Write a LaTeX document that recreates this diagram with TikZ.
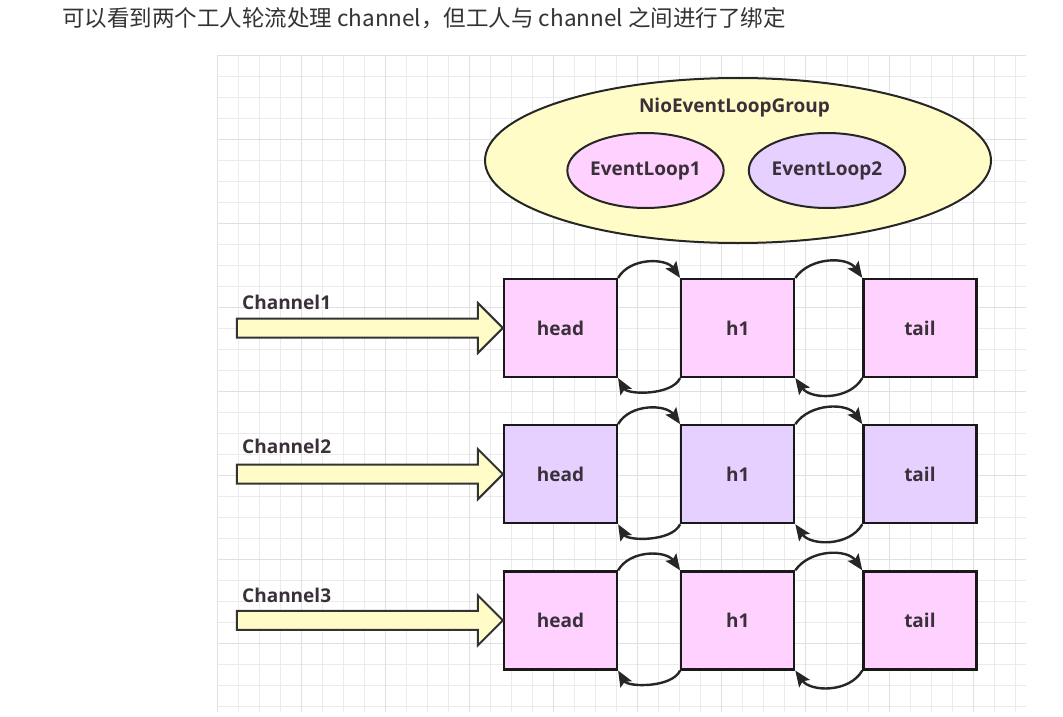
\documentclass[tikz,border=0pt]{standalone}
\usepackage{fontspec}
\setmainfont{Open Sans}
\newfontfamily\cjk{Noto Sans CJK SC}
\usetikzlibrary{positioning,arrows.meta,shapes.geometric}
\definecolor{boxpink}{HTML}{FFD1FF}
\definecolor{boxlilac}{HTML}{E6D0FF}
\definecolor{groupyellow}{HTML}{FFFCC8}
\definecolor{txtgray}{HTML}{3A3039}
\begin{document}
\begin{tikzpicture}[x=1pt, y=-1pt, font=\fontsize{19}{22}\selectfont\bfseries] % pixel units, y grows downwards
\tikzstyle{cell} = [rectangle, draw=black!90, line width=2.2pt, text=txtgray, minimum width=113pt, minimum height=98pt, inner sep=0pt]
\tikzstyle{loop} = [ellipse, draw=black!85, line width=2pt, text=txtgray, inner sep=0pt]
\tikzstyle{link} = [-{Stealth[length=16pt,width=13pt,inset=3pt]}, line width=2.4pt, draw=black!85]
\tikzstyle{fatarrow} = [draw=black!80, line width=2pt, fill=groupyellow, line join=miter]
\tikzstyle{chname} = [anchor=west, text=txtgray, inner sep=0pt]

\useasboundingbox (0,0) rectangle (1063,717);
\fill[white] (0,0) rectangle (1063,717);

% background grid
\draw[black!8, line width=0.8pt, step=21pt, shift={(217,55)}] (0,0) grid (809,657);
\draw[black!12, line width=0.8pt, step=84pt, shift={(217,55)}] (0,0) grid (809,657);

% caption line
\node[anchor=west, inner sep=0pt, text=black!80, font=\cjk\fontsize{22.5}{26}\selectfont] (Caption) at (62,18)
{可以看到两个工人轮流处理 channel，但工人与 channel 之间进行了绑定};

% the group with its two event loops
\node[loop, fill=groupyellow, minimum width=506pt, minimum height=165pt] (Group) at (738,160.5) {};
\node[text=txtgray] (GroupName) at (734.5,108) {NioEventLoopGroup};
\node[loop, fill=boxpink, minimum width=147pt, minimum height=75pt] (Loop1) at (645.5,170.5) {EventLoop1};
\node[loop, fill=boxlilac, minimum width=147pt, minimum height=75pt] (Loop2) at (827,170.5) {EventLoop2};

% three pipelines
\node[cell, fill=boxpink] (HeadA) at (560.5,328) {head};
\node[cell, fill=boxpink, right=62pt of HeadA] (HOneA) {h1};
\node[cell, fill=boxpink, right=67pt of HOneA] (TailA) {tail};

\node[cell, fill=boxlilac, below=46pt of HeadA] (HeadB) {head};
\node[cell, fill=boxlilac, right=62pt of HeadB] (HOneB) {h1};
\node[cell, fill=boxlilac, right=67pt of HOneB] (TailB) {tail};

\node[cell, fill=boxpink, below=46pt of HeadB] (HeadC) {head};
\node[cell, fill=boxpink, right=62pt of HeadC] (HOneC) {h1};
\node[cell, fill=boxpink, right=67pt of HOneC] (TailC) {tail};

% channel labels
\node[chname] (ChanA) at (242,302) {Channel1};
\node[chname] (ChanB) at (242,446) {Channel2};
\node[chname] (ChanC) at (242,595) {Channel3};

% fat arrows into each head
\foreach \h in {HeadA, HeadB, HeadC} {
  \draw[fatarrow] (\h.west) -- ++(-25,-25) -- ++(0,15.5) -- ++(-241,0) -- ++(0,19) -- ++(241,0) -- ++(0,15.5) -- cycle;
}

% links between handlers
\foreach \r in {A, B, C} {
  \draw[link] (Head\r.north east) to[out=60, in=125] (HOne\r.north west);
  \draw[link] (HOne\r.south west) to[out=-115, in=-60, looseness=0.8] (Head\r.south east);
  \draw[link] (HOne\r.north east) to[out=55, in=125] (Tail\r.north west);
  \draw[link] (Tail\r.south west) to[out=-120, in=-55] (HOne\r.south east);
}

\end{tikzpicture}
\end{document}
